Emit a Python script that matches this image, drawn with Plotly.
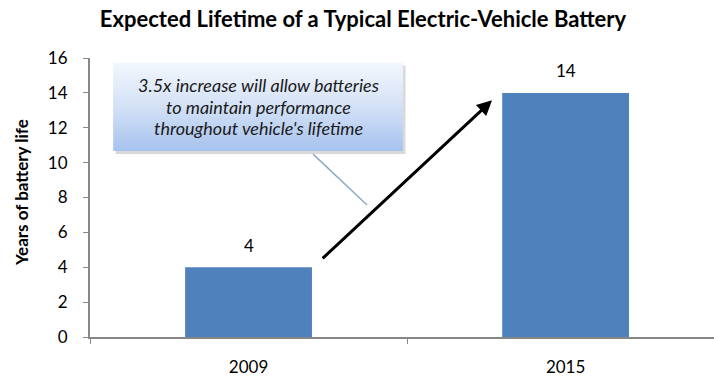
import plotly.graph_objects as go

# Data
years = ["2009", "2015"]
battery_life = [4, 14]
y_ticks = [0, 2, 4, 6, 8, 10, 12, 14, 16]

title_text = "Expected Lifetime of a Typical Electric-Vehicle Battery"
y_title = "Years of battery life"
callout_lines = [
    "3.5x increase will allow batteries",
    "to maintain performance",
    "throughout vehicle's lifetime",
]

FONT = "Lato, 'Open Sans', sans-serif"
BAR_COLOR = "#4F81BD"
AXIS_COLOR = "#878787"
X_RANGE = [-0.5, 1.468]

fig = go.Figure()

# Bars on the category axis
fig.add_trace(go.Bar(
    x=years, y=battery_life, width=0.4,
    marker=dict(color=BAR_COLOR, line=dict(width=0)),
    showlegend=False,
))

# Callout box on a hidden linear overlay axis: soft shadow + vertical gradient panel
bx0, bx1, by0, by1 = -0.427, 0.487, 10.66, 15.74
fig.add_trace(go.Scatter(
    x=[bx0 + 0.008, bx1 + 0.008, bx1 + 0.008, bx0 + 0.008, bx0 + 0.008],
    y=[by0 - 0.17, by0 - 0.17, by1 - 0.17, by1 - 0.17, by0 - 0.17],
    fill="toself", fillcolor="rgba(80,80,80,0.22)", mode="lines",
    line=dict(width=0), hoverinfo="skip", showlegend=False, xaxis="x2",
))
fig.add_trace(go.Scatter(
    x=[bx0, bx1, bx1, bx0, bx0],
    y=[by0, by0, by1, by1, by0],
    fill="toself", mode="lines", line=dict(width=0),
    fillgradient=dict(type="vertical",
                      colorscale=[[0, "#A6C2EE"], [0.5, "#D3E1F6"], [1, "#F3F7FD"]]),
    hoverinfo="skip", showlegend=False, xaxis="x2",
))

annotations = []
# Value labels above each bar (category index positions)
for i, v in enumerate(battery_life):
    annotations.append(dict(
        x=i, y=v, xref="x", yref="y", text=str(v), showarrow=False,
        yshift=22, font=dict(family=FONT, size=17, color="#000000"),
    ))

# Callout text, one annotation per line for tight spacing
line_y = [(by0 + by1) / 2 + 1.23, (by0 + by1) / 2, (by0 + by1) / 2 - 1.23]
for txt, ly in zip(callout_lines, line_y):
    annotations.append(dict(
        x=(bx0 + bx1) / 2, y=ly, xref="x", yref="y",
        text=txt, showarrow=False, align="center",
        font=dict(family=FONT, size=18, color="#1A1A1A", style="italic"),
    ))

# Growth arrow from the 2009 bar towards the 2015 bar
annotations.append(dict(
    x=0.768, y=13.57, ax=0.229, ay=4.43,
    xref="x", yref="y", axref="x", ayref="y",
    showarrow=True, arrowhead=2, arrowsize=1, arrowwidth=3,
    arrowcolor="#000000", text="",
))

# Y-axis title
annotations.append(dict(
    x=(21 - 90) / 624, y=0.516, xref="paper", yref="paper",
    text="<b>%s</b>" % y_title,
    textangle=-90, showarrow=False, xanchor="center", yanchor="middle",
    font=dict(family=FONT, size=17, color="#000000"),
))

fig.update_layout(annotations=annotations)

# Pointer line from callout box
fig.add_shape(type="line", x0=0.2035, y0=10.49, x1=0.3738, y1=7.57,
              xref="x", yref="y", line=dict(color="#8DA9CB", width=1.5))

fig.update_layout(
    width=714, height=381,
    margin=dict(l=90, r=0, t=57.5, b=43.5),
    paper_bgcolor="white", plot_bgcolor="white",
    title=dict(text="<b>%s</b>" % title_text, x=363 / 714, xref="container",
               xanchor="center", y=1 - 19 / 381, yref="container", yanchor="middle",
               font=dict(family=FONT, size=22, color="#000000")),
    xaxis=dict(type="category", categoryorder="array", categoryarray=years,
               range=X_RANGE, showgrid=False,
               showline=True, linecolor=AXIS_COLOR, linewidth=2,
               ticks="outside", tickson="boundaries", ticklen=5, tickwidth=1,
               tickcolor=AXIS_COLOR, ticklabelstandoff=14,
               tickfont=dict(family=FONT, size=17, color="#000000"),
               zeroline=False, fixedrange=True),
    xaxis2=dict(type="linear", range=X_RANGE, overlaying="x", visible=False,
                fixedrange=True),
    yaxis=dict(range=[0, 16], tickvals=y_ticks, showgrid=False,
               showline=True, linecolor=AXIS_COLOR, linewidth=2,
               ticks="outside", ticklen=5, tickwidth=1, tickcolor=AXIS_COLOR,
               ticklabelstandoff=12,
               tickfont=dict(family=FONT, size=17, color="#000000"),
               zeroline=False, fixedrange=True),
    bargap=0.6,
)

fig.write_html("out.html")
